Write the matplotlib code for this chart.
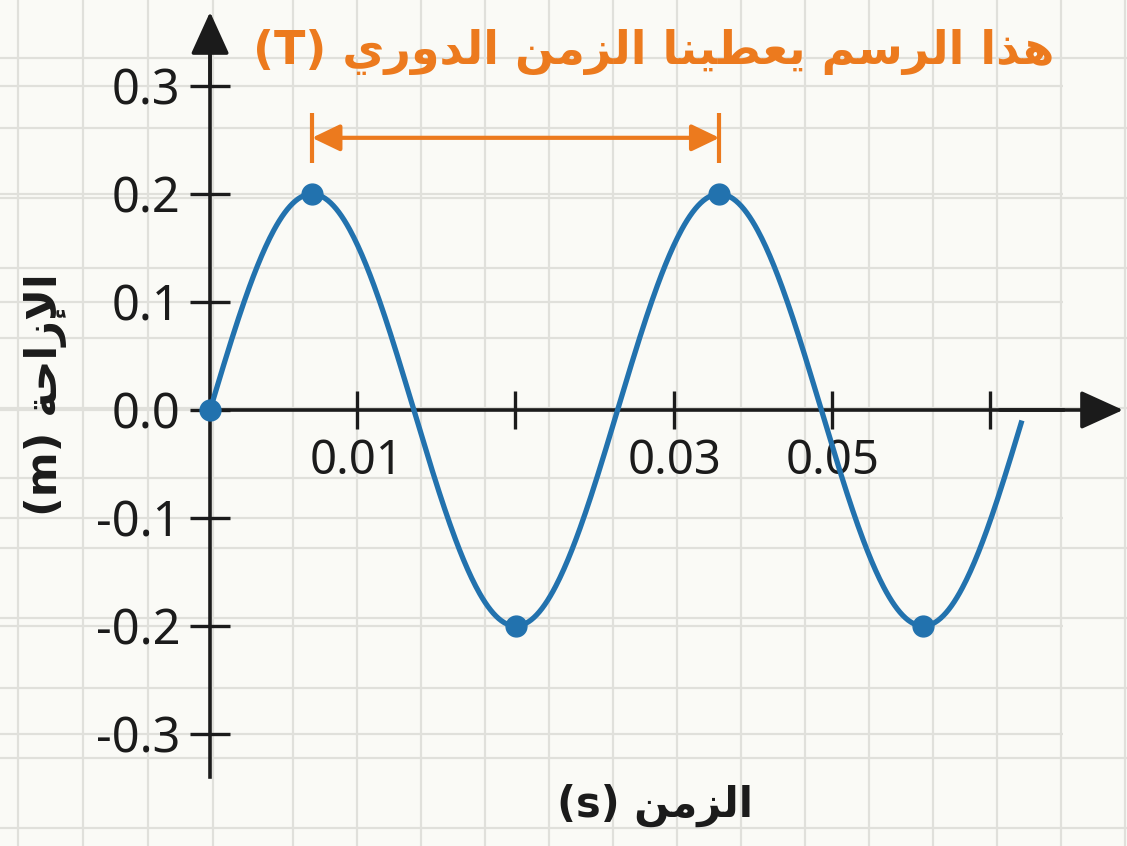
import numpy as np
import matplotlib.pyplot as plt

# displacement of the oscillator (metres) against time (seconds)
amplitude = 0.2
period = 0.0258
t_end = 0.0514

point_t = [0.0, 0.00645, 0.01935, 0.03225, 0.04515]
point_y = [0.0, 0.2, -0.2, 0.2, -0.2]

x_ticks = [0.0093, 0.0193, 0.0294, 0.0394, 0.0494]
x_tick_labels = ['0.01', '', '0.03', '0.05', '']
y_ticks = [-0.3, -0.2, -0.1, 0.0, 0.1, 0.2, 0.3]
y_tick_labels = ['-0.3', '-0.2', '-0.1', '0.0', '0.1', '0.2', '0.3']

title = 'هذا الرسم يعطينا الزمن الدوري (T)'
x_label = 'الزمن (s)'
y_label = 'الإزاحة (m)'

BLUE = '#2272ae'
ORANGE = '#ec7a1e'
INK = '#1b1b1b'
GRID = '#e0e0db'

# matplotlib has no arabic shaping, so pick the joined glyph forms by hand
AR_FORMS = {
    '\u0627': ('\uFE8D', '\uFE8E'),
    '\u0625': ('\uFE87', '\uFE88'),
    '\u0629': ('\uFE93', '\uFE94'),
    '\u062D': ('\uFEA1', '\uFEA2', '\uFEA3', '\uFEA4'),
    '\u062F': ('\uFEA9', '\uFEAA'),
    '\u0630': ('\uFEAB', '\uFEAC'),
    '\u0631': ('\uFEAD', '\uFEAE'),
    '\u0632': ('\uFEAF', '\uFEB0'),
    '\u0633': ('\uFEB1', '\uFEB2', '\uFEB3', '\uFEB4'),
    '\u0637': ('\uFEC1', '\uFEC2', '\uFEC3', '\uFEC4'),
    '\u0639': ('\uFEC9', '\uFECA', '\uFECB', '\uFECC'),
    '\u0644': ('\uFEDD', '\uFEDE', '\uFEDF', '\uFEE0'),
    '\u0645': ('\uFEE1', '\uFEE2', '\uFEE3', '\uFEE4'),
    '\u0646': ('\uFEE5', '\uFEE6', '\uFEE7', '\uFEE8'),
    '\u0647': ('\uFEE9', '\uFEEA', '\uFEEB', '\uFEEC'),
    '\u0648': ('\uFEED', '\uFEEE'),
    '\u064A': ('\uFEF1', '\uFEF2', '\uFEF3', '\uFEF4'),
}
LAM_ALEF = {'\u0627': ('\uFEFB', '\uFEFC'), '\u0625': ('\uFEF9', '\uFEFA')}


def shape_word(word):
    letters = []
    i = 0
    while i < len(word):
        c = word[i]
        if c == '\u0644' and i + 1 < len(word) and word[i + 1] in LAM_ALEF:
            letters.append(LAM_ALEF[word[i + 1]])
            i += 2
        else:
            letters.append(AR_FORMS[c])
            i += 1
    out = []
    for k, forms in enumerate(letters):
        joins_prev = k > 0 and len(letters[k - 1]) == 4
        joins_next = len(forms) == 4 and k + 1 < len(letters)
        if joins_prev and joins_next:
            out.append(forms[3])
        elif joins_prev:
            out.append(forms[1])
        elif joins_next:
            out.append(forms[2])
        else:
            out.append(forms[0])
    return ''.join(reversed(out))


def rtl(text):
    words = text.split(' ')
    return ' '.join(shape_word(w) if w[0] in AR_FORMS else w for w in reversed(words))


plt.rcParams['font.family'] = ['Noto Sans', 'DejaVu Sans']

fig = plt.figure(figsize=(11.27, 8.46), dpi=100)
fig.patch.set_facecolor('#fafaf6')

# squared paper behind the plot
bg = fig.add_axes([0, 0, 1, 1])
bg.set_xlim(0, 1127)
bg.set_ylim(846, 0)
bg.axis('off')
for gx in list(np.arange(18, 215, 65)) + list(np.arange(293, 1130, 64)):
    bg.axvline(gx, color=GRID, lw=1.6, zorder=0)
for gy in np.arange(828, 0, -70):
    bg.axhline(gy, color=GRID, lw=1.6, zorder=0)

ax = fig.add_axes([0, 0, 1063 / 1127, 1])
ax.set_facecolor('none')
ax.set_xlim(-0.0133, 0.0540)
ax.set_ylim(-0.4037, 0.3796)

for side in ['top', 'right']:
    ax.spines[side].set_visible(False)
ax.spines['left'].set_position(('data', 0))
ax.spines['bottom'].set_position(('data', 0))
ax.spines['left'].set_bounds(-0.34, 0.34)
ax.spines['bottom'].set_bounds(0, 0.054)
for side in ['left', 'bottom']:
    ax.spines[side].set_linewidth(2.6)
    ax.spines[side].set_color(INK)

ax.set_xticks(x_ticks)
ax.set_xticklabels(x_tick_labels)
ax.set_yticks(y_ticks)
ax.set_yticklabels(y_tick_labels)
ax.tick_params(axis='x', direction='inout', length=27, width=2.4, color=INK,
               labelsize=34, pad=7, labelcolor=INK)
ax.tick_params(axis='y', direction='inout', length=29, width=2.4, color=INK,
               labelsize=35, pad=7, labelcolor=INK)
ax.yaxis.grid(True, color=GRID, lw=1.6)
ax.set_axisbelow(True)

# arrow heads on both axes
head = dict(arrowstyle='-|>,head_length=0.55,head_width=0.25', color=INK,
            lw=2.6, mutation_scale=48, shrinkA=0, shrinkB=0)
ax.annotate('', xy=(0, 0.3685), xytext=(0, 0.30), arrowprops=head,
            annotation_clip=False)
ax.annotate('', xy=(0.0578, 0), xytext=(0.050, 0), arrowprops=head,
            annotation_clip=False)

t = np.linspace(0, t_end, 600)
disp = amplitude * np.sin(2 * np.pi * t / period)
ax.plot(t, disp, color=BLUE, lw=3.8, solid_capstyle='butt', zorder=4)
ax.plot(point_t, point_y, 'o', color=BLUE, ms=15, zorder=5, clip_on=False)

# one period between the two crests
arrow_y = 0.252
ax.annotate('', xy=(point_t[3], arrow_y), xytext=(point_t[1], arrow_y),
            arrowprops=dict(arrowstyle='<|-|>,head_length=0.5,head_width=0.24',
                            color=ORANGE, lw=3, mutation_scale=34,
                            shrinkA=0, shrinkB=0), zorder=6)
ax.vlines([point_t[1], point_t[3]], arrow_y - 0.023, arrow_y + 0.023,
          color=ORANGE, lw=3, zorder=6)

fig.text(654 / 1127, 1 - 52 / 846, rtl(title), color=ORANGE, fontsize=33,
         fontweight='bold', family='DejaVu Sans', ha='center', va='center')
fig.text(655 / 1127, 1 - 805 / 846, rtl(x_label), color=INK, fontsize=30,
         fontweight='bold', family='DejaVu Sans', ha='center', va='center')
fig.text(46 / 1127, 1 - 395 / 846, rtl(y_label), color=INK, fontsize=31,
         fontweight='bold', family='DejaVu Sans', ha='center', va='center',
         rotation=90)

fig.savefig('out.png', dpi=100, facecolor=fig.get_facecolor())
